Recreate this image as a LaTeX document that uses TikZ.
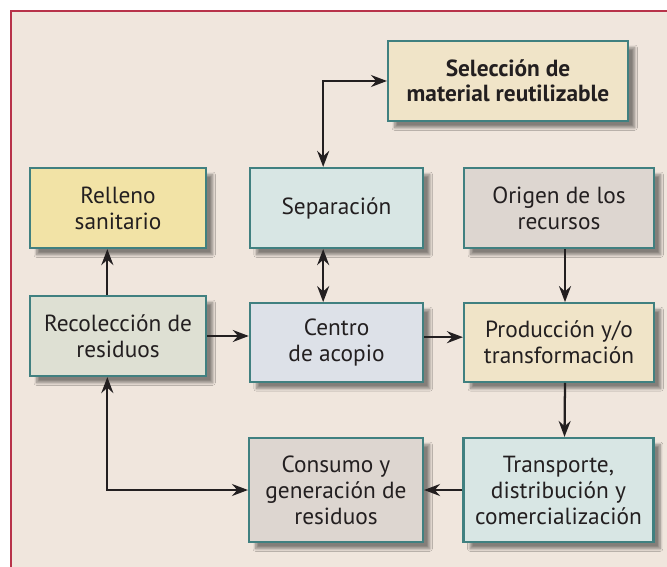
\documentclass[tikz,border=0pt]{standalone}
\usepackage{fontspec}
\setmainfont{PT Sans}
\usepackage{tikz}
\usetikzlibrary{arrows.meta,shadows.blur}
\definecolor{frameRed}{RGB}{184,51,74}
\definecolor{paper}{RGB}{240,230,221}
\definecolor{edge}{RGB}{64,128,128}
\definecolor{ink}{RGB}{35,31,32}
\definecolor{cream}{RGB}{240,228,200}
\definecolor{sand}{RGB}{242,227,166}
\definecolor{mint}{RGB}{216,230,228}
\definecolor{taupe}{RGB}{221,214,208}
\definecolor{sage}{RGB}{222,224,211}
\definecolor{mist}{RGB}{221,225,232}

\begin{document}
\begin{tikzpicture}[x=0.75pt, y=-0.75pt,
  box/.style={draw=edge, line width=1.6pt, align=center, text=ink,
              font=\fontsize{17.5}{19.5}\selectfont, inner sep=2pt,
              blur shadow={shadow xshift=5pt, shadow yshift=-5pt,
                           shadow blur steps=10, shadow opacity=45}},
  tip/.style={Stealth[length=12pt,width=9pt,inset=4pt]},
  arr/.style={-{Stealth[length=12pt,width=9pt,inset=4pt]}, line width=1.7pt, draw=ink},
  darr/.style={arr, {Stealth[length=12pt,width=9pt,inset=4pt]}-{Stealth[length=12pt,width=9pt,inset=4pt]}}]
\useasboundingbox (0,0) rectangle (667,567);
\begin{scope}
\clip (0,0) rectangle (667,567);
\fill[white] (0,0) rectangle (667,567);
\draw[frameRed, fill=paper, line width=1.5pt] (11,11) rectangle (690,590);
\end{scope}
% top row
\node[box, fill=cream, minimum width=180pt, minimum height=60pt,
      font=\fontsize{17.5}{19}\selectfont\bfseries] (sel) at (508,81)
  {Selección de\\material reutilizable};
\node[box, fill=sand, minimum width=132pt, minimum height=60pt] (rel) at (118,208)
  {Relleno\\sanitario};
\node[box, fill=mint, minimum width=130pt, minimum height=60pt] (sep) at (336.5,208)
  {Separación};
\node[box, fill=taupe, minimum width=142.5pt, minimum height=60pt] (ori) at (559,208)
  {Origen de los\\recursos};
% middle row
\node[box, fill=sage, minimum width=132pt, minimum height=60pt] (rec) at (118,336)
  {Recolección de\\residuos};
\node[box, fill=mist, minimum width=130pt, minimum height=59pt] (cen) at (336.5,342.5)
  {Centro\\de acopio};
\node[box, fill=cream, minimum width=142.5pt, minimum height=59pt] (pro) at (559,342.5)
  {Producción y/o\\transformación};
% bottom row
\node[box, fill=taupe, minimum width=130.5pt, minimum height=78pt] (con) at (336,490)
  {Consumo y\\generación de\\residuos};
\node[box, fill=mint, minimum width=142.5pt, minimum height=78pt] (tra) at (558.5,490)
  {Transporte,\\distribución y\\comercialización};
% connectors
\draw[darr] ([xshift=-10pt]sep.north) |- (sel.west);
\draw[darr] ([xshift=-10pt]sep.south) -- ([xshift=-10pt]cen.north);
\draw[arr] ([xshift=-8pt]rec.north) -- ([xshift=-8pt]rel.south);
\draw[arr] (rec.east) -- (rec.east -| cen.west);
\draw[arr] ([yshift=4pt]cen.east) -- ([yshift=4pt]pro.west);
\draw[arr] ([xshift=4.5pt]ori.south) -- ([xshift=4.5pt]pro.north);
\draw[arr] ([xshift=4.5pt]pro.south) -- ([xshift=4.5pt]tra.north);
\draw[arr] (tra.west) -- (con.east);
\draw[darr] (con.west) -| ([xshift=-8pt]rec.south);
\end{tikzpicture}
\end{document}
